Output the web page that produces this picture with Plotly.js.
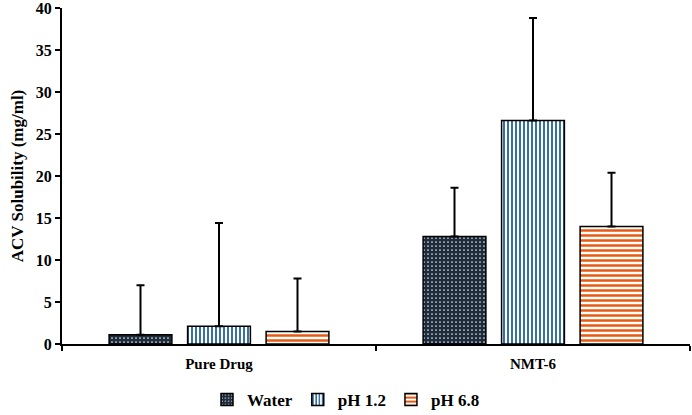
<!DOCTYPE html>
<html>
<head>
<meta charset="utf-8">
<script src="https://cdn.plot.ly/plotly-3.0.1.min.js"></script>
<style>
  html, body { margin: 0; padding: 0; background: #fff; }
  #plot { width: 692px; height: 415px; }
</style>
</head>
<body>
<div id="plot"></div>
<script>
// solubility of ACV (mg/ml)
const groups = ['Pure Drug', 'NMT-6'];
const water = [1.1, 12.8];
const waterErr = [5.9, 5.8];
const ph12 = [2.1, 26.6];
const ph12Err = [12.3, 12.2];
const ph68 = [1.5, 14.0];
const ph68Err = [6.3, 6.4];

const serif = 'Liberation Serif, Times New Roman, serif';

function barTrace(name, y, err, pattern) {
    return {
        type: 'bar',
        name: name,
        x: groups,
        y: y,
        marker: {
            color: pattern.bgcolor,
            line: { color: '#000', width: 1.5 },
            pattern: pattern
        },
        error_y: {
            type: 'data',
            symmetric: false,
            array: err,
            arrayminus: err.map(() => 0),
            color: '#000',
            thickness: 2,
            width: 4
        }
    };
}

const plotData = [
    barTrace('Water', water, waterErr, {
        shape: '.', fgcolor: '#e6ecf2', bgcolor: '#1d2b3a', size: 4, solidity: 0.14, fillmode: 'replace'
    }),
    barTrace('pH 1.2', ph12, ph12Err, {
        shape: '|', fgcolor: '#1f6396', bgcolor: '#ffffff', size: 4, solidity: 0.45, fillmode: 'replace'
    }),
    barTrace('pH 6.8', ph68, ph68Err, {
        shape: '-', fgcolor: '#e85a12', bgcolor: '#ffffff', size: 5, solidity: 0.5, fillmode: 'replace'
    })
];

const layout = {
    width: 692,
    height: 415,
    margin: { l: 62, r: 2, t: 8, b: 71 },
    barmode: 'group',
    bargap: 0.25,
    bargroupgap: 0.2,
    plot_bgcolor: '#fff',
    paper_bgcolor: '#fff',
    font: { family: serif, color: '#000', size: 14 },
    showlegend: true,
    legend: {
        orientation: 'h',
        x: 0.5,
        xanchor: 'center',
        xref: 'container',
        y: 0.036,
        yanchor: 'middle',
        yref: 'container',
        font: { family: serif, size: 17, weight: 'bold' },
        itemwidth: 30,
        tracegroupgap: 0,
        traceorder: 'normal'
    },
    xaxis: {
        showline: true,
        linecolor: '#000',
        linewidth: 2,
        ticks: 'outside',
        tickson: 'boundaries',
        ticklen: 5,
        tickwidth: 2,
        tickcolor: '#000',
        tickfont: { family: serif, size: 15, weight: 'bold' },
        ticklabelstandoff: 5,
        showgrid: false,
        zeroline: false,
        automargin: false
    },
    yaxis: {
        range: [0, 40],
        dtick: 5,
        showline: true,
        linecolor: '#000',
        linewidth: 2,
        ticks: 'outside',
        ticklen: 5,
        tickwidth: 2,
        tickcolor: '#000',
        tickfont: { family: serif, size: 16, weight: 'bold' },
        ticklabeloverflow: 'allow',
        showgrid: false,
        zeroline: false,
        automargin: false,
        title: {
            text: 'ACV Solubility (mg/ml)',
            font: { family: serif, size: 17, weight: 'bold' },
            standoff: 8
        }
    }
};

Plotly.newPlot('plot', plotData, layout, { displayModeBar: false, staticPlot: true });
</script>
</body>
</html>
